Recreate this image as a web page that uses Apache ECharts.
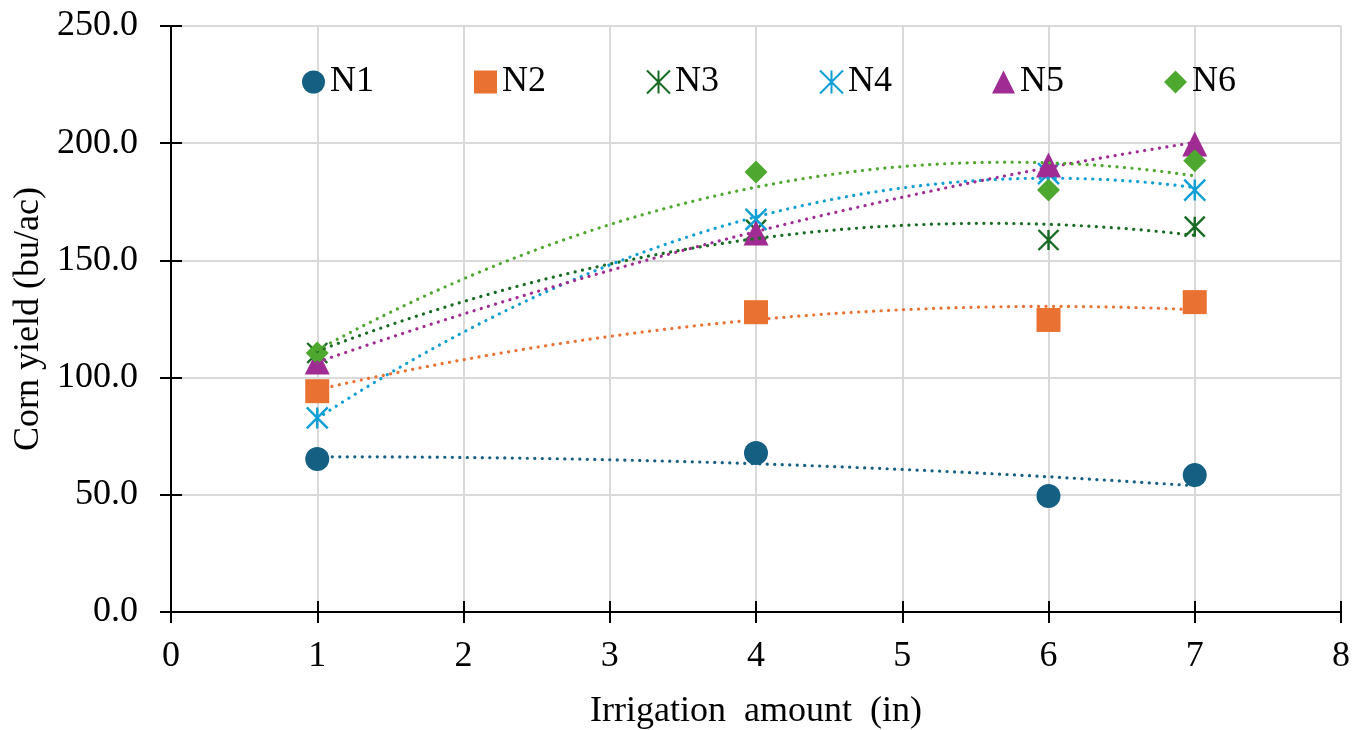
<!DOCTYPE html>
<html>
<head>
<meta charset="utf-8">
<script src="https://cdn.jsdelivr.net/npm/echarts@6/dist/echarts.min.js"></script>
<style>
html,body{margin:0;padding:0;background:#fff;}
#c{width:1368px;height:730px;}
</style>
</head>
<body>
<div id="c"></div>
<script>
// ---- data ----
const irrigation = [1, 4, 6, 7];
const seriesNames = ['N1', 'N2', 'N3', 'N4', 'N5', 'N6'];
const yieldN1 = [65.3, 67.8, 49.5, 58.4];
const yieldN2 = [94.2, 127.9, 124.6, 132.2];
const yieldN3 = [110.5, 163.0, 158.7, 164.4];
const yieldN4 = [82.8, 167.5, 187.0, 180.0];
const yieldN5 = [106.7, 161.7, 190.7, 199.7];
const yieldN6 = [110.5, 187.7, 180.0, 192.5];
const xTicks = [0, 1, 2, 3, 4, 5, 6, 7, 8];
const yTicks = [0, 50, 100, 150, 200, 250];

const allYields = [yieldN1, yieldN2, yieldN3, yieldN4, yieldN5, yieldN6];
const colors = ['#156082', '#E97132', '#196B24', '#0F9ED5', '#A02B93', '#4EA72E'];
const STAR = 'path://M0,0L20,20M20,0L0,20M10,0L10,20';
const symbols = ['circle', 'rect', STAR, STAR, 'triangle', 'diamond'];
const sizes = [24, 24, 20, 21, 25, 23];

// quadratic least-squares trendline (as the spreadsheet's polynomial order-2 trendline)
function quadFit(xs, ys) {
  let n = xs.length, sx = 0, sx2 = 0, sx3 = 0, sx4 = 0, sy = 0, sxy = 0, sx2y = 0;
  for (let i = 0; i < n; i++) {
    const x = xs[i], y = ys[i];
    sx += x; sx2 += x * x; sx3 += x * x * x; sx4 += x * x * x * x;
    sy += y; sxy += x * y; sx2y += x * x * y;
  }
  const A = [[n, sx, sx2, sy], [sx, sx2, sx3, sxy], [sx2, sx3, sx4, sx2y]];
  for (let i = 0; i < 3; i++) {
    let p = i;
    for (let r = i + 1; r < 3; r++) if (Math.abs(A[r][i]) > Math.abs(A[p][i])) p = r;
    [A[i], A[p]] = [A[p], A[i]];
    for (let r = 0; r < 3; r++) {
      if (r === i) continue;
      const f = A[r][i] / A[i][i];
      for (let c = i; c < 4; c++) A[r][c] -= f * A[i][c];
    }
  }
  const c0 = A[0][3] / A[0][0], c1 = A[1][3] / A[1][1], c2 = A[2][3] / A[2][2];
  const pts = [];
  const x0 = Math.min(...xs), x1 = Math.max(...xs);
  for (let k = 0; k <= 120; k++) {
    const x = x0 + (x1 - x0) * k / 120;
    pts.push([x, c0 + c1 * x + c2 * x * x]);
  }
  return pts;
}

const FONT = "'Liberation Serif', 'Times New Roman', serif";
const FS = 36;
const series = [];
seriesNames.forEach((name, i) => {
  const isStar = symbols[i] === STAR;
  series.push({
    name: name,
    type: 'scatter',
    data: irrigation.map((x, j) => [x, allYields[i][j]]),
    symbol: symbols[i],
    symbolSize: sizes[i],
    itemStyle: isStar
      ? { color: colors[i], borderColor: colors[i], borderWidth: 2.4, opacity: 1 }
      : { color: colors[i], opacity: 1 },
    z: 3 + i,
    emphasis: { disabled: true }
  });
});
seriesNames.forEach((name, i) => {
  series.push({
    name: name + ' trend',
    type: 'line',
    data: quadFit(irrigation, allYields[i]),
    showSymbol: false,
    smooth: false,
    lineStyle: { color: colors[i], width: 3.2, type: [0.1, 7.4], cap: 'round' },
    z: 12,
    silent: true
  });
});

const chart = echarts.init(document.getElementById('c'));
chart.setOption({
  animation: false,
  backgroundColor: '#fff',
  grid: { left: 171, right: 27, top: 26, bottom: 118, containLabel: false, outerBoundsMode: 'none' },
  legend: {
    data: seriesNames,
    top: 59,
    left: 297,
    itemWidth: 23,
    itemHeight: 23,
    itemGap: 100,
    textStyle: { fontFamily: FONT, fontSize: FS, color: '#000' }
  },
  xAxis: [{
    type: 'value', min: 0, max: 8, interval: 1,
    name: 'Irrigation  amount  (in)', nameLocation: 'middle', nameGap: 82,
    nameTextStyle: { fontFamily: FONT, fontSize: FS, color: '#000' },
    axisLine: { show: true, onZero: false, lineStyle: { color: '#000', width: 2 } },
    axisTick: { show: true, length: 11, lineStyle: { color: '#000', width: 2 } },
    axisLabel: { fontFamily: FONT, fontSize: FS, color: '#000', margin: 27,
      formatter: v => xTicks.includes(v) ? String(v) : '' },
    splitLine: { show: true, lineStyle: { color: '#d9d9d9', width: 2 } }
  }, {
    type: 'value', min: 0, max: 8, interval: 1, position: 'bottom',
    axisLine: { show: false, onZero: false },
    axisTick: { show: true, inside: true, length: 11, lineStyle: { color: '#000', width: 2 } },
    axisLabel: { show: false }, splitLine: { show: false }
  }],
  yAxis: [{
    type: 'value', min: 0, max: 250, interval: 50,
    name: 'Corn yield (bu/ac)', nameLocation: 'middle', nameGap: 117, nameRotate: 90,
    nameTextStyle: { fontFamily: FONT, fontSize: FS, color: '#000' },
    axisLine: { show: true, onZero: false, lineStyle: { color: '#000', width: 2 } },
    axisTick: { show: true, length: 11, lineStyle: { color: '#000', width: 2 } },
    axisLabel: { fontFamily: FONT, fontSize: FS, color: '#000', margin: 33,
      formatter: v => yTicks.includes(v) ? v.toFixed(1) : '' },
    splitLine: { show: true, lineStyle: { color: '#d9d9d9', width: 2 } }
  }, {
    type: 'value', min: 0, max: 250, interval: 50, position: 'left',
    axisLine: { show: false, onZero: false },
    axisTick: { show: true, inside: true, length: 11, lineStyle: { color: '#000', width: 2 } },
    axisLabel: { show: false }, splitLine: { show: false }
  }],
  series: series
});
</script>
</body>
</html>
